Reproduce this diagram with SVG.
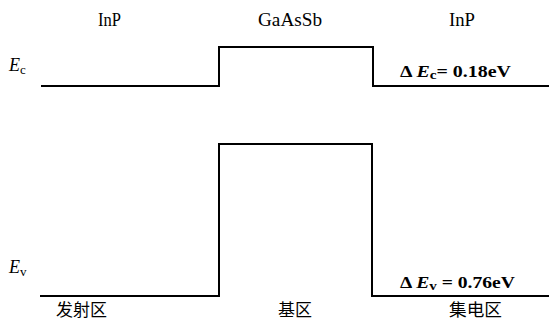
<svg xmlns="http://www.w3.org/2000/svg" width="549" height="321" viewBox="0 0 549 321">
<style>
.band{fill:none;stroke:#000;stroke-width:2;stroke-linejoin:miter}
text{font-family:'Liberation Serif','Times New Roman','DejaVu Serif','Noto Sans CJK SC',serif;fill:#000}
.lbl{font-size:18px}
.val{font-size:17px;font-weight:bold}
.cjk{font-size:17px}
.it{font-style:italic}
</style>
<rect width="549" height="321" fill="#fff"/>
<g id="materials">
<text class="lbl" x="98" y="26" textLength="23" lengthAdjust="spacingAndGlyphs">InP</text>
<text class="lbl" x="258" y="26" textLength="64" lengthAdjust="spacingAndGlyphs">GaAsSb</text>
<text class="lbl" x="449" y="26" textLength="26" lengthAdjust="spacingAndGlyphs">InP</text>
</g>
<g id="conduction-band">
<path class="band" d="M41,86 H219 V47 H373 V86 H549"/>
<text class="lbl" x="9" y="71"><tspan class="it">E</tspan><tspan font-size="13" dy="3">c</tspan></text>
<text class="val" x="400" y="77" textLength="111" lengthAdjust="spacingAndGlyphs">Δ <tspan class="it">E</tspan><tspan font-size="13" dy="2">c</tspan><tspan dy="-2">= 0.18eV</tspan></text>
</g>
<g id="valence-band">
<path class="band" d="M40,296 H219 V144 H372 V296 H549"/>
<text class="lbl" x="9" y="273"><tspan class="it">E</tspan><tspan font-size="13" dy="3">v</tspan></text>
<text class="val" x="400" y="288" textLength="115" lengthAdjust="spacingAndGlyphs">Δ <tspan class="it">E</tspan><tspan font-size="13" dy="2">v</tspan><tspan dy="-2"> = 0.76eV</tspan></text>
</g>
<g id="regions">
<text class="cjk" x="56" y="316" textLength="51" lengthAdjust="spacingAndGlyphs">发射区</text>
<text class="cjk" x="278" y="316" textLength="34" lengthAdjust="spacingAndGlyphs">基区</text>
<text class="cjk" x="449" y="316" textLength="53" lengthAdjust="spacingAndGlyphs">集电区</text>
</g>
</svg>
